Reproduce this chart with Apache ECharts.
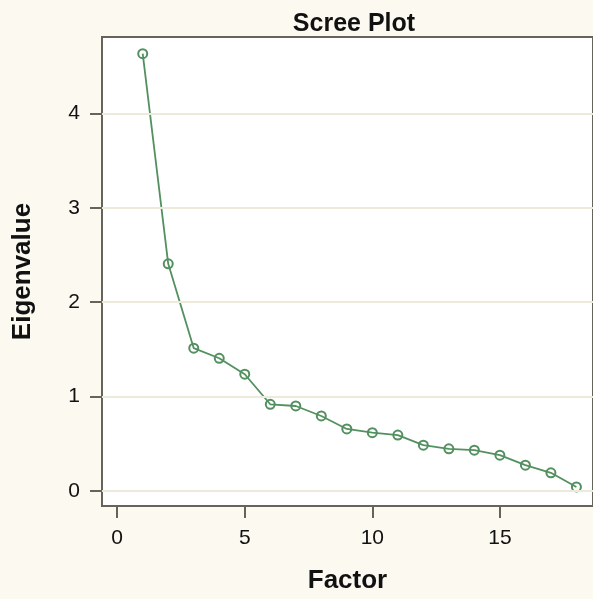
<!DOCTYPE html>
<html>
<head>
<meta charset="utf-8">
<script src="https://cdn.jsdelivr.net/npm/echarts@6/dist/echarts.min.js"></script>
<style>
html,body{margin:0;padding:0;background:#FCF9F1;}
#chart{width:593px;height:599px;}
</style>
</head>
<body>
<div id="chart"></div>
<script>
const factors = [1,2,3,4,5,6,7,8,9,10,11,12,13,14,15,16,17,18];
const eigenvalues = [4.636,2.407,1.512,1.405,1.236,0.917,0.899,0.793,0.655,0.616,0.590,0.483,0.444,0.430,0.377,0.271,0.190,0.040];
const xTicks = [0,5,10,15];
const yTicks = [0,1,2,3,4];

const FONT = 'Liberation Sans, Arial, sans-serif';
const axisColor = '#66635A';
const lineColor = '#53905F';

const chart = echarts.init(document.getElementById('chart'), null, {renderer:'canvas'});
chart.setOption({
  backgroundColor: '#FCF9F1',
  animation: false,
  title: {
    text: 'Scree Plot',
    left: 349, top: 7, textAlign: 'center',
    textStyle: {fontFamily: FONT, fontSize: 25, fontWeight: 'bold', color: '#111'}
  },
  grid: {
    left: 102, top: 37, right: -3, bottom: 93,
    show: true, backgroundColor: '#FFFFFF', borderColor: axisColor, borderWidth: 2
  },
  xAxis: {
    type: 'value', min: -0.596, max: 18.65,
    name: 'Factor', nameLocation: 'middle', nameGap: 62,
    nameTextStyle: {fontFamily: FONT, fontSize: 26, fontWeight: 'bold', color: '#111'},
    axisLine: {show: true, onZero: false, lineStyle: {color: axisColor, width: 2}},
    axisTick: {show: true, length: 12, customValues: xTicks, lineStyle: {color: axisColor, width: 2}},
    axisLabel: {customValues: xTicks, margin: 22, fontFamily: FONT, fontSize: 21, color: '#111'},
    splitLine: {show: false}
  },
  yAxis: {
    type: 'value', min: -0.162, max: 4.813,
    name: 'Eigenvalue', nameLocation: 'middle', nameGap: 66, nameRotate: 90,
    nameTextStyle: {fontFamily: FONT, fontSize: 26, fontWeight: 'bold', color: '#111'},
    axisLine: {show: true, onZero: false, lineStyle: {color: axisColor, width: 2}},
    axisTick: {show: true, length: 12, customValues: yTicks, lineStyle: {color: axisColor, width: 2}},
    axisLabel: {customValues: yTicks, margin: 22, fontFamily: FONT, fontSize: 21, color: '#111'},
    splitLine: {show: false}
  },
  series: [
    {
      type: 'line', data: [], z: 1, silent: true,
      markLine: {
        silent: true, symbol: 'none', label: {show: false},
        lineStyle: {color: '#EEEAD9', width: 2, type: 'solid'},
        data: yTicks.map(v => ({yAxis: v}))
      }
    },
    {
      type: 'line', z: 3,
      data: factors.map((f, i) => [f, eigenvalues[i]]),
      symbol: 'circle', symbolSize: 9,
      lineStyle: {color: lineColor, width: 1.8},
      itemStyle: {color: 'rgba(0,0,0,0)', borderColor: lineColor, borderWidth: 2}
    }
  ]
});
</script>
</body>
</html>
